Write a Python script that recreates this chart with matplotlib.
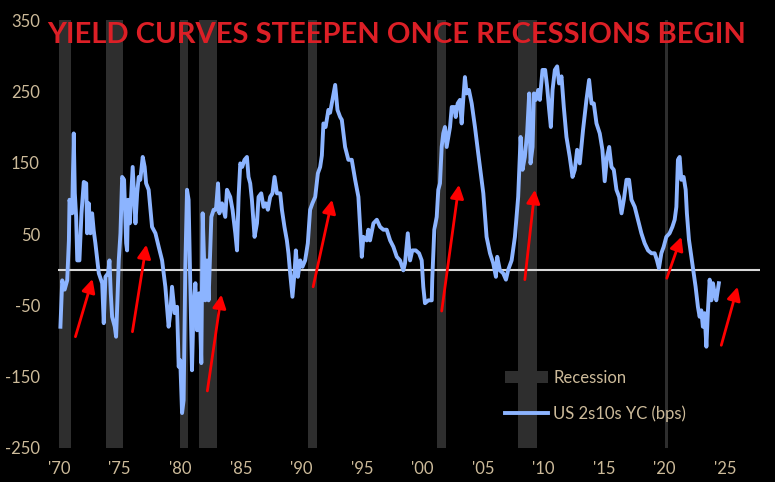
#!/usr/bin/env python3
# -*- coding: utf-8 -*-

import matplotlib

matplotlib.use("Agg")
import matplotlib.pyplot as plt
from matplotlib.lines import Line2D
from matplotlib.patches import Patch

plt.rcParams["axes.unicode_minus"] = False

# US 2s10s yield curve (bps)
years = [
    1970.10, 1970.25, 1970.45, 1970.66, 1970.80, 1970.85, 1971.07, 1971.20, 1971.29, 1971.40,
    1971.49, 1971.67, 1971.84, 1972.03, 1972.23, 1972.31, 1972.44, 1972.58, 1972.72, 1972.85,
    1972.99, 1973.27, 1973.55, 1973.68, 1973.82, 1974.04, 1974.15, 1974.26, 1974.37, 1974.59,
    1974.70, 1974.81, 1974.92, 1975.06, 1975.20, 1975.36, 1975.53, 1975.61, 1975.69, 1975.83,
    1976.07, 1976.30, 1976.44, 1976.57, 1976.70, 1976.90, 1977.06, 1977.18, 1977.39, 1977.67,
    1977.95, 1978.22, 1978.50, 1978.77, 1979.04, 1979.18, 1979.32, 1979.54, 1979.74, 1979.87,
    1980.00, 1980.15, 1980.28, 1980.42, 1980.56, 1980.69, 1980.83, 1980.97, 1981.10, 1981.25,
    1981.39, 1981.58, 1981.74, 1981.85, 1982.07, 1982.21, 1982.34, 1982.57, 1982.76, 1982.95,
    1983.12, 1983.23, 1983.45, 1983.72, 1983.86, 1984.13, 1984.32, 1984.55, 1984.69, 1984.82,
    1984.96, 1985.12, 1985.31, 1985.51, 1985.64, 1985.78, 1985.92, 1986.14, 1986.34, 1986.47,
    1986.69, 1986.88, 1987.06, 1987.24, 1987.43, 1987.62, 1987.79, 1987.99, 1988.26, 1988.40,
    1988.61, 1988.81, 1988.94, 1989.08, 1989.27, 1989.44, 1989.55, 1989.72, 1989.91, 1990.10,
    1990.32, 1990.54, 1990.73, 1990.92, 1991.15, 1991.37, 1991.56, 1991.70, 1991.83, 1992.01,
    1992.24, 1992.38, 1992.57, 1992.80, 1992.99, 1993.21, 1993.35, 1993.62, 1993.89, 1994.17,
    1994.45, 1994.72, 1995.00, 1995.13, 1995.41, 1995.54, 1995.68, 1995.96, 1996.24, 1996.51,
    1996.78, 1997.06, 1997.34, 1997.61, 1997.89, 1998.16, 1998.43, 1998.57, 1998.80, 1998.99,
    1999.17, 1999.46, 1999.73, 1999.95, 2000.08, 2000.22, 2000.50, 2000.78, 2000.82, 2000.99,
    2001.19, 2001.32, 2001.46, 2001.60, 2001.73, 2001.87, 2002.01, 2002.15, 2002.29, 2002.43,
    2002.64, 2002.76, 2002.92, 2003.11, 2003.25, 2003.38, 2003.52, 2003.66, 2003.85, 2004.08,
    2004.35, 2004.62, 2004.90, 2005.04, 2005.31, 2005.59, 2005.86, 2006.08, 2006.19, 2006.41,
    2006.68, 2006.91, 2007.10, 2007.38, 2007.65, 2007.92, 2008.12, 2008.28, 2008.47, 2008.66,
    2008.83, 2008.94, 2009.11, 2009.22, 2009.38, 2009.57, 2009.71, 2009.93, 2010.15, 2010.31,
    2010.48, 2010.62, 2010.76, 2010.95, 2011.14, 2011.30, 2011.50, 2011.69, 2011.91, 2012.18,
    2012.41, 2012.60, 2012.79, 2013.01, 2013.28, 2013.56, 2013.78, 2013.98, 2014.17, 2014.39,
    2014.66, 2014.88, 2015.07, 2015.26, 2015.44, 2015.63, 2015.82, 2016.04, 2016.26, 2016.46,
    2016.65, 2016.87, 2017.08, 2017.28, 2017.55, 2017.82, 2018.10, 2018.37, 2018.65, 2018.93,
    2019.20, 2019.39, 2019.55, 2019.75, 2019.94, 2020.16, 2020.43, 2020.66, 2020.85, 2020.99,
    2021.12, 2021.26, 2021.40, 2021.59, 2021.76, 2021.86, 2022.03, 2022.23, 2022.42, 2022.58,
    2022.77, 2022.91, 2023.05, 2023.18, 2023.32, 2023.47, 2023.60, 2023.74, 2023.88, 2024.01,
    2024.15, 2024.29, 2024.50,
]
spread = [
    -80, -15, -28, -15, 41, 98, 79, 191, 107, 74,
    13, 13, 79, 123, 121, 51, 93, 51, 79, 55,
    37, -5, -19, -75, -10, -5, 13, -33, -66, -80,
    -94, -43, 13, 51, 130, 126, 37, 27, 98, 65,
    144, 65, 107, 130, 126, 158, 144, 121, 112, 60,
    51, 32, 13, -24, -80, -61, -24, -61, -52, -136,
    -127, -201, -183, 4, 112, 98, -24, -141, -52, -19,
    -85, -33, -131, 79, -43, 13, -43, 74, 84, 84,
    121, 79, 93, 74, 112, 102, 84, 51, 27, 102,
    149, 144, 154, 158, 130, 121, 98, 46, 65, 102,
    107, 88, 93, 84, 102, 107, 130, 107, 107, 84,
    60, 41, 23, -5, -38, -5, 27, -10, 13, 4,
    13, 37, 84, 93, 102, 135, 144, 160, 205, 200,
    224, 220, 238, 259, 224, 214, 210, 172, 154, 154,
    126, 102, 18, 46, 41, 56, 41, 65, 70, 60,
    56, 56, 41, 32, 18, 13, -1, 9, 51, 13,
    27, 27, 23, 13, -24, -47, -43, -43, -14, 56,
    74, 112, 121, 172, 191, 200, 172, 186, 200, 228,
    228, 214, 233, 238, 205, 238, 270, 247, 252, 233,
    200, 163, 126, 107, 46, 23, 9, -10, 18, -1,
    -5, -14, 0, 13, 46, 102, 186, 140, 158, 191,
    247, 149, 172, 247, 238, 252, 238, 280, 280, 257,
    224, 200, 252, 280, 285, 261, 271, 228, 186, 158,
    130, 140, 168, 149, 196, 238, 266, 233, 233, 205,
    191, 168, 124, 158, 172, 144, 140, 112, 102, 79,
    98, 126, 126, 98, 88, 70, 51, 37, 27, 23,
    23, 13, 2, 23, 32, 46, 51, 60, 70, 88,
    154, 158, 126, 130, 112, 79, 42, 18, -5, -24,
    -52, -66, -57, -80, -61, -108, -57, -14, -43, -19,
    -33, -43, -19,
]

# recession periods (start, end)
rec_start = [1969.97, 1973.90, 1980.00, 1981.58, 1990.57, 2001.20, 2007.90, 2020.02]
rec_end = [1971.00, 1975.30, 1980.67, 1983.00, 1991.31, 2001.96, 2009.46, 2020.27]

# red arrows: tail -> head
arrow_x0 = [1971.34, 1976.05, 1982.24, 1990.98, 2001.60, 2008.47, 2020.20, 2024.70]
arrow_y0 = [-94, -87, -170, -24, -58, -14, -12, -106]
arrow_x1 = [1972.75, 1977.20, 1983.40, 1992.55, 2003.03, 2009.30, 2021.40, 2026.05]
arrow_y1 = [-13, 35, -35, 98, 119, 112, 46, -24]

yticks = [-250, -150, -50, 50, 150, 250, 350]
xticks = list(range(1970, 2030, 5))
xticklabels = ["'%02d" % (y % 100) for y in xticks]

title = "YIELD CURVES STEEPEN ONCE RECESSIONS BEGIN"

BG = "#000000"
TXT = "#cdbb9a"
LINE = "#8cb4ff"
BAND = "#2e2e2e"
RED = "#ff0000"

tickfont = ["Lato", "DejaVu Sans"]

fig = plt.figure(figsize=(7.75, 4.82), dpi=100, facecolor=BG)
ax = fig.add_axes([58 / 775, 1 - 448 / 482, (760 - 58) / 775, (448 - 20) / 482])
ax.set_facecolor(BG)

for s, e in zip(rec_start, rec_end):
    ax.axvspan(s, e, color=BAND, lw=0, zorder=1)

ax.axhline(0, color="#d8d8d8", lw=1.5, zorder=2)
ax.plot(years, spread, color=LINE, lw=2.8, zorder=3, solid_joinstyle="round")

for x0, y0, x1, y1 in zip(arrow_x0, arrow_y0, arrow_x1, arrow_y1):
    ax.annotate(
        "",
        xy=(x1, y1),
        xytext=(x0, y0),
        arrowprops=dict(
            arrowstyle="-|>", color=RED, lw=2, mutation_scale=20, shrinkA=0, shrinkB=0
        ),
        zorder=4,
    )

ax.set_xlim(1969.9, 2027.9)
ax.set_ylim(-250, 350)
ax.set_yticks(yticks)
ax.set_xticks(xticks)
ax.set_xticklabels(xticklabels)
ax.tick_params(axis="both", length=0, colors=TXT, labelsize=12)
ax.tick_params(axis="y", pad=13)
ax.tick_params(axis="x", pad=9)
for lab in ax.get_xticklabels() + ax.get_yticklabels():
    lab.set_family(tickfont)
for sp in ax.spines.values():
    sp.set_visible(False)

handles = [
    Patch(facecolor=BAND, edgecolor="none", label="Recession"),
    Line2D([], [], color=LINE, lw=2.8, label="US 2s10s YC (bps)"),
]
ax.legend(
    handles=handles,
    loc="upper left",
    bbox_to_anchor=(505 / 775, 1 - 370 / 482),
    bbox_transform=fig.transFigure,
    frameon=False,
    borderpad=0,
    borderaxespad=0,
    handlelength=2.6,
    handletextpad=0.3,
    labelspacing=1.15,
    prop={"family": tickfont, "size": 12},
    labelcolor=TXT,
)

fig.text(
    397 / 775,
    1 - 35 / 482,
    title,
    color="#dc1f26",
    fontsize=21,
    fontweight="bold",
    family=["Lato", "DejaVu Sans"],
    ha="center",
    va="center",
)

fig.savefig("out.png", dpi=100, facecolor=BG)
